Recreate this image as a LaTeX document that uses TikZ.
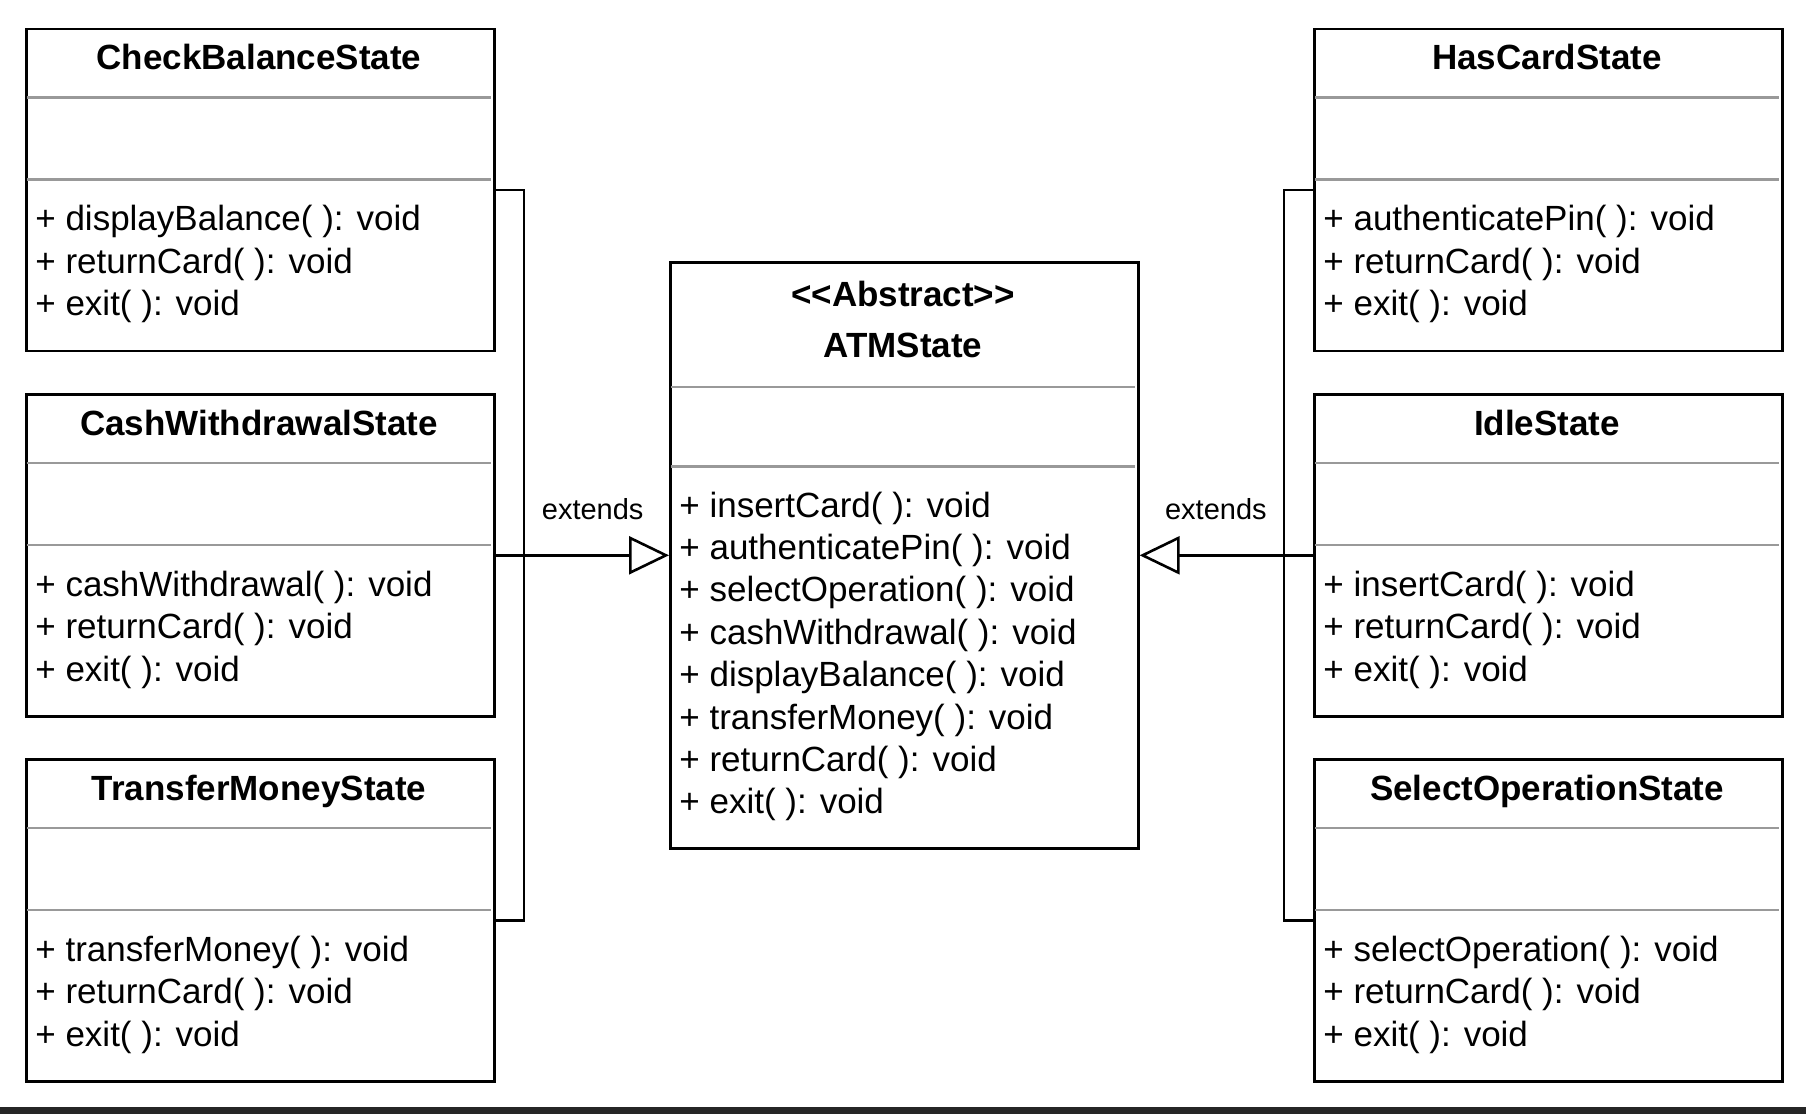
\documentclass[tikz,border=0pt]{standalone}
\usepackage{fontspec}
\setmainfont{Liberation Sans}
\usetikzlibrary{arrows.meta}

% box with title, empty field part and three methods
\newcommand{\classbox}[7]{%
  \node[classbox] (#1) at (#2,#3) {};
  \draw[sep] (#2+2,#3+70) -- (#2+466,#3+70);
  \draw[sep] (#2+2,#3+152) -- (#2+466,#3+152);
  \node[class_title] (#1-title) at (#2+234,#3+42) {#4};
  \node[method] (#1-m1) at (#2+10,#3+203) {+ #5};
  \node[method] (#1-m2) at (#2+10,#3+245.5) {+ #6};
  \node[method] (#1-m3) at (#2+10,#3+288) {+ #7};
}

\begin{document}
\begin{tikzpicture}[x=0.5pt, y=-0.5pt,
    classbox/.style={draw, line width=1.3pt, anchor=north west, minimum width=234pt, minimum height=161pt, inner sep=0pt},
    sep/.style={black!40, line width=1.2pt},
    class_title/.style={font=\fontsize{17.5}{21}\selectfont\bfseries, anchor=base, inner sep=0pt},
    method/.style={font=\fontsize{17.5}{21}\selectfont, anchor=base west, inner sep=0pt},
    extends_line/.style={line width=1.3pt},
    extends_arrow/.style={extends_line, -{Triangle[open, length=20pt, width=19pt]}},
    extends_label/.style={font=\fontsize{14.5}{17}\selectfont, above=17pt, inner sep=0pt, pos=0.56}
]
    \useasboundingbox (0,0) rectangle (1806,1114);
    % Classes on the left
    \classbox{cbs}{25}{27.5}{CheckBalanceState}{displayBalance( ): void}{returnCard( ): void}{exit( ): void}
    \classbox{cws}{25}{393}{CashWithdrawalState}{cashWithdrawal( ): void}{returnCard( ): void}{exit( ): void}
    \classbox{tms}{25}{758}{TransferMoneyState}{transferMoney( ): void}{returnCard( ): void}{exit( ): void}
    % Classes on the right
    \classbox{hcs}{1313}{27.5}{HasCardState}{authenticatePin( ): void}{returnCard( ): void}{exit( ): void}
    \classbox{ids}{1313}{393}{IdleState}{insertCard( ): void}{returnCard( ): void}{exit( ): void}
    \classbox{sos}{1313}{758}{SelectOperationState}{selectOperation( ): void}{returnCard( ): void}{exit( ): void}
    % Abstract class
    \node[classbox, minimum height=293pt] (atm) at (669,261) {};
    \draw[sep] (671,387) -- (1135,387);
    \draw[sep] (671,466.5) -- (1135,466.5);
    \node[class_title] (atm-stereo) at (903,306) {\mbox{<}\mbox{<}Abstract\mbox{>}\mbox{>}};
    \node[class_title] (atm-title) at (903,357) {ATMState};
    \node[method] (atm-m1) at (679,517) {+ insertCard( ): void};
    \node[method] (atm-m2) at (679,559.4) {+ authenticatePin( ): void};
    \node[method] (atm-m3) at (679,601.8) {+ selectOperation( ): void};
    \node[method] (atm-m4) at (679,644.2) {+ cashWithdrawal( ): void};
    \node[method] (atm-m5) at (679,686.6) {+ displayBalance( ): void};
    \node[method] (atm-m6) at (679,729) {+ transferMoney( ): void};
    \node[method] (atm-m7) at (679,771.4) {+ returnCard( ): void};
    \node[method] (atm-m8) at (679,813.8) {+ exit( ): void};
    % Generalisation
    \coordinate (lbus) at (524,554);
    \coordinate (rbus) at (1284,554);
    \draw[extends_line] (cbs.east) -| (lbus) |- (tms.east);
    \draw[extends_arrow] (cws.east) -- node[extends_label] (lext) {extends} (atm.west);
    \draw[extends_line] (hcs.west) -| (rbus) |- (sos.west);
    \draw[extends_arrow] (ids.west) -- node[extends_label] (rext) {extends} (atm.east);
    % bottom edge
    \fill[black!85] (0,1107) rectangle (1806,1114);
\end{tikzpicture}
\end{document}
